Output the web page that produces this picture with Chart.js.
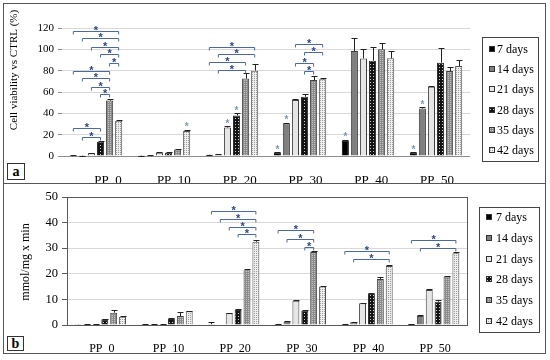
<!DOCTYPE html>
<html><head><meta charset="utf-8">
<script src="https://cdn.jsdelivr.net/npm/chart.js@4.4.0/dist/chart.umd.min.js"></script>
<style>
html,body{margin:0;padding:0;background:#fff;}
#wrap{position:relative;width:550px;height:360px;overflow:hidden;}
canvas{position:absolute;left:0;}
#ca{top:0}
#cb{top:183px}
.frame{position:absolute;border:1px solid #555;box-sizing:border-box;pointer-events:none}
.tag{position:absolute;border:1px solid #333;box-sizing:border-box;font:bold 14px 'Liberation Serif';text-align:center;background:#fff}
</style></head><body>
<div id="wrap">
<canvas id="ca" width="550" height="183"></canvas>
<canvas id="cb" width="550" height="177"></canvas>
<div class="frame" style="left:3px;top:3px;width:543px;height:181px"></div>
<div class="frame" style="left:3px;top:183px;width:543px;height:171px"></div>
<div class="tag" style="left:7px;top:163px;width:18px;height:17px;line-height:15px">a</div>
<div class="tag" style="left:7px;top:336px;width:17px;height:15px;line-height:13px">b</div>
</div>
<script>
// ---------- DATA ----------
const categories = ['PP_0','PP_10','PP_20','PP_30','PP_40','PP_50'];
const seriesNames = ['7 days','14 days','21 days','28 days','35 days','42 days'];

// Panel a: cell viability vs CTRL (%)
const viab7  = [0.5, 0.3, 1.2, 3.2, 14.2, 3.2];
const viab14 = [0.3, 0.5, 1.3, 30.5, 98.5, 44.5];
const viab21 = [2.5, 3.0, 26.7, 52.5, 91.5, 65.0];
const viab28 = [13.3, 3.0, 38.0, 55.5, 89.3, 87.5];
const viab35 = [52.0, 6.0, 72.6, 71.2, 100.0, 79.7];
const viab42 = [33.0, 23.4, 80.0, 71.9, 91.6, 84.4];
const viabErr7  = [0.2, 0.1, 0.2, 0.5, 1.0, 0.4];
const viabErr14 = [0.1, 0.2, 0.2, 0.8, 12.0, 1.0];
const viabErr21 = [0.4, 0.3, 1.0, 1.0, 8.4, 1.0];
const viabErr28 = [0.8, 0.3, 2.0, 2.5, 12.5, 14.0];
const viabErr35 = [1.0, 0.4, 5.0, 3.8, 5.6, 4.0];
const viabErr42 = [0.6, 1.0, 6.5, 1.5, 6.8, 5.6];
const viabTicks = [0, 20, 40, 60, 80, 100, 120];
// significance brackets: [category, fromSeries, toSeries, level]
const viabBrackets = [
  [0,0,5,117.5],[0,1,5,110.3],[0,2,5,102.5],[0,3,5,95.3],[0,4,5,86.9],
  [0,0,4,79.7],[0,1,4,72.8],[0,2,4,65.0],[0,3,4,57.8],[0,0,3,26.0],[0,1,3,18.1],
  [2,0,5,102.5],[2,1,5,95.6],[2,0,4,88.1],[2,1,4,80.6],
  [3,2,5,105.0],[3,3,5,97.8],[3,2,4,87.5],[3,3,4,80.0]
];
// single stars above bars: [category, series]
const viabStars = [[1,5],[2,2],[2,3],[3,0],[3,1],[4,0],[5,0],[5,1]];

// Panel b: mmol/mg x min
const enz7  = [0.1, 0.2, 0.3, 0.4, 0.3, 0.4];
const enz14 = [0.2, 0.3, 0.0, 1.3, 1.1, 3.5];
const enz21 = [0.4, 0.3, 4.6, 9.5, 8.5, 13.7];
const enz28 = [2.2, 2.3, 5.9, 5.6, 12.1, 9.1];
const enz35 = [4.8, 3.5, 21.4, 28.5, 18.0, 18.9];
const enz42 = [3.2, 5.4, 32.5, 15.0, 23.0, 28.0];
const enzErr7  = [0.05, 0.05, 1.0, 0.1, 0.1, 0.1];
const enzErr14 = [0.05, 0.1, 0.0, 0.2, 0.2, 0.3];
const enzErr21 = [0.1, 0.1, 0.2, 0.2, 0.2, 0.3];
const enzErr28 = [0.3, 0.3, 0.4, 0.2, 0.3, 0.5];
const enzErr35 = [1.1, 1.7, 0.4, 0.4, 0.6, 0.3];
const enzErr42 = [0.3, 0.2, 0.8, 0.3, 0.5, 0.5];
const enzTicks = [0, 10, 20, 30, 40, 50];
const enzBrackets = [
  [2,0,5,44.5],[2,1,5,41.4],[2,2,5,38.4],[2,3,5,35.5],
  [3,0,4,37.1],[3,1,4,33.6],[3,3,4,30.6],
  [4,0,5,28.9],[4,1,5,25.7],
  [5,0,5,33.2],[5,1,5,30.2]
];
const enzStars = [];

// ---------- STYLE ----------
const SERIF = "'Liberation Serif', 'Times New Roman', serif";
function makeFills(ctx) {
  function pat(size, bg, dots, dc) {
    const c = document.createElement('canvas'); c.width = c.height = size;
    const g = c.getContext('2d'); g.fillStyle = bg; g.fillRect(0,0,size,size);
    g.fillStyle = dc; dots.forEach(d => g.fillRect(d[0], d[1], 1, 1));
    return ctx.createPattern(c, 'repeat');
  }
  return [
    '#000000',
    '#7f7f7f',
    '#e6e6e6',
    pat(3, '#141414', [[1,1]], '#cfcfcf'),
    pat(2, '#8a8a8a', [[0,0]], '#c4c4c4'),
    pat(2, '#efefef', [[0,0]], '#9c9c9c')
  ];
}
const borders = ['#000000','#404040','#404040','#303030','#404040','#505050'];

const extras = {
  id: 'extras',
  afterDatasetsDraw(chart, args, o) {
    const ctx = chart.ctx, y = chart.scales.y;
    ctx.save();
    // error bars (plus side)
    ctx.strokeStyle = '#222'; ctx.lineWidth = 1;
    o.errors.forEach((errs, di) => {
      const meta = chart.getDatasetMeta(di);
      meta.data.forEach((el, j) => {
        const v = chart.data.datasets[di].data[j], e = errs[j];
        if (!e) return;
        const yt = Math.round(y.getPixelForValue(v + e)) + 0.5;
        const x = Math.round(el.x) + 0.5;
        ctx.beginPath(); ctx.moveTo(x, el.y); ctx.lineTo(x, yt);
        ctx.moveTo(x - 3, yt); ctx.lineTo(x + 3, yt); ctx.stroke();
      });
    });
    // brackets
    ctx.strokeStyle = '#4d6a99'; ctx.lineWidth = 1;
    ctx.fillStyle = '#2a4585';
    ctx.font = "bold 11px 'Liberation Sans'"; ctx.textAlign = 'center'; ctx.textBaseline = 'alphabetic';
    o.brackets.forEach(b => {
      const x1 = chart.getDatasetMeta(b[1]).data[b[0]].x;
      const x2 = chart.getDatasetMeta(b[2]).data[b[0]].x;
      const yy = Math.round(y.getPixelForValue(b[3])) + 0.5;
      ctx.beginPath();
      ctx.moveTo(x1, yy + 3); ctx.lineTo(x1, yy); ctx.lineTo(x2, yy); ctx.lineTo(x2, yy + 3);
      ctx.stroke();
      ctx.fillText('*', (x1 + x2) / 2, yy + 2.5);
    });
    // single stars
    ctx.fillStyle = '#8596b0';
    ctx.font = "bold 10px 'Liberation Sans'";
    o.stars.forEach(s => {
      const el = chart.getDatasetMeta(s[1]).data[s[0]];
      const v = chart.data.datasets[s[1]].data[s[0]] + o.errors[s[1]][s[0]];
      const yt = y.getPixelForValue(v);
      ctx.fillText('*', el.x, yt + 0.5);
    });
    ctx.restore();
  },
  afterDraw(chart, args, o) {
    const ctx = chart.ctx;
    ctx.save();
    if (o.frame) {
      const a = chart.chartArea;
      ctx.strokeStyle = '#595959'; ctx.lineWidth = 1;
      ctx.strokeRect(Math.round(a.left) + 0.5, Math.round(a.top) + 0.5, Math.round(a.right - a.left), Math.round(a.bottom - a.top));
    }
    // legend
    const L = o.legend;
    ctx.strokeStyle = '#444'; ctx.lineWidth = 1;
    ctx.strokeRect(L.box[0] + 0.5, L.box[1] + 0.5, L.box[2], L.box[3]);
    ctx.font = '12px ' + SERIF; ctx.fillStyle = '#000'; ctx.textAlign = 'left'; ctx.textBaseline = 'middle';
    chart.data.datasets.forEach((ds, i) => {
      const cy = Math.round(L.y0 + i * L.step);
      ctx.fillStyle = ds.backgroundColor;
      ctx.fillRect(L.mx, cy - 3, 6, 6);
      ctx.strokeStyle = '#333';
      ctx.strokeRect(L.mx + 0.5, cy - 2.5, 5, 5);
      ctx.fillStyle = '#000';
      ctx.fillText(ds.label, L.tx, cy + 0.5);
    });
    // y title
    ctx.translate(o.title.x, o.title.y); ctx.rotate(-Math.PI / 2);
    ctx.font = o.title.size + 'px ' + SERIF; ctx.textAlign = 'center'; ctx.textBaseline = 'middle';
    ctx.fillText(o.title.text, 0, 0);
    ctx.restore();
  }
};

function datasets(fills, arrs) {
  return arrs.map((d, i) => ({
    label: seriesNames[i], data: d, xAxisID: 'x',
    backgroundColor: fills[i], borderColor: borders[i], borderWidth: 1,
    categoryPercentage: 0.8, barPercentage: 0.78
  }));
}

// ---------- PANEL A ----------
const ctxA = document.getElementById('ca').getContext('2d');
const fillsA = makeFills(ctxA);
new Chart(ctxA, {
  type: 'bar',
  data: { labels: categories, datasets: datasets(fillsA, [viab7, viab14, viab21, viab28, viab35, viab42]) },
  options: {
    responsive: false, animation: false, devicePixelRatio: 1,
    layout: { padding: { top: 28, right: 80, left: 0, bottom: 0 } },
    plugins: {
      legend: { display: false }, tooltip: { enabled: false },
      extras: {
        errors: [viabErr7, viabErr14, viabErr21, viabErr28, viabErr35, viabErr42],
        brackets: viabBrackets, stars: viabStars, frame: false,
        legend: { box: [482, 37, 56, 124], y0: 49, step: 20.2, mx: 489, tx: 497 },
        title: { text: 'Cell viability vs CTRL (%)', x: 14, y: 70, size: 11 }
      }
    },
    scales: {
      x: { type: 'category', display: false, offset: true },
      xl: {
        type: 'linear', position: 'bottom', min: -0.7, max: 5.5, offset: false, bounds: 'data',
        grid: { display: false }, border: { display: false },
        afterBuildTicks: s => { s.ticks = categories.map((c, i) => ({ value: i })); },
        ticks: { callback: v => categories[v], font: { family: SERIF, size: 13 }, color: '#000', padding: 9, maxRotation: 0, autoSkip: false },
        afterFit: s => { s.height = 27; }
      },
      y: {
        min: 0, max: 120,
        afterBuildTicks: s => { s.ticks = viabTicks.map(v => ({ value: v })); },
        grid: { color: c => (c.tick && c.tick.value === 0) ? '#8c8c8c' : '#d9d9d9', tickLength: 4, tickColor: '#8c8c8c' },
        border: { display: false },
        ticks: { font: { family: SERIF, size: 11 }, color: '#000', padding: 4 },
        afterFit: s => { s.width = 62; }
      }
    }
  },
  plugins: [extras]
});

// ---------- PANEL B ----------
const ctxB = document.getElementById('cb').getContext('2d');
const fillsB = makeFills(ctxB);
new Chart(ctxB, {
  type: 'bar',
  data: { labels: categories, datasets: datasets(fillsB, [enz7, enz14, enz21, enz28, enz35, enz42]) },
  options: {
    responsive: false, animation: false, devicePixelRatio: 1,
    layout: { padding: { top: 14, right: 83, left: 0, bottom: 0 } },
    plugins: {
      legend: { display: false }, tooltip: { enabled: false },
      extras: {
        errors: [enzErr7, enzErr14, enzErr21, enzErr28, enzErr35, enzErr42],
        brackets: enzBrackets, stars: enzStars, frame: true,
        legend: { box: [479, 24, 60, 125], y0: 34, step: 20.8, mx: 486, tx: 496 },
        title: { text: 'mmol/mg x min', x: 26, y: 79, size: 12 }
      }
    },
    scales: {
      x: {
        type: 'category', offset: true,
        grid: { display: false }, border: { display: false },
        ticks: { font: { family: SERIF, size: 12 }, color: '#000', padding: 9, labelOffset: 1.5, maxRotation: 0 },
        afterFit: s => { s.height = 35; }
      },
      y: {
        min: 0, max: 50,
        afterBuildTicks: s => { s.ticks = enzTicks.map(v => ({ value: v })); },
        grid: { color: '#d9d9d9', tickLength: 5, tickColor: '#595959' },
        border: { display: false },
        ticks: { font: { family: SERIF, size: 12.5 }, color: '#000', padding: 4 },
        afterFit: s => { s.width = 67; }
      }
    }
  },
  plugins: [extras]
});
</script>
</body></html>
